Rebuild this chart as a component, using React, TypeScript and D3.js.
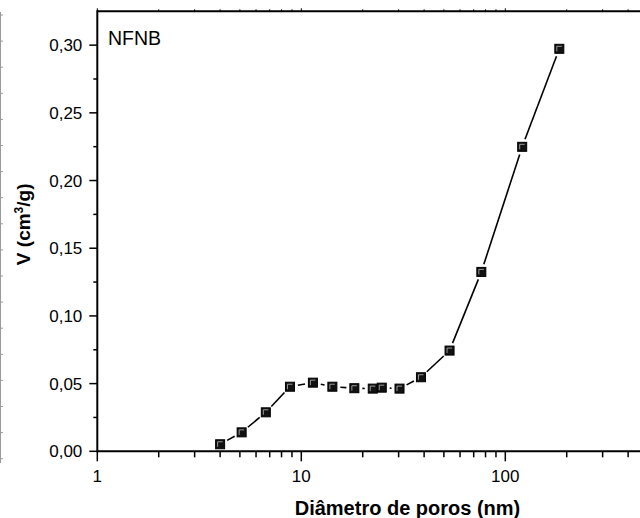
import React from "react";
import * as d3 from "d3";

// Pore-size distribution, sample NFNB
const diameters = [4.0, 5.1, 6.7, 8.8, 11.4, 14.2, 18.2, 22.4, 24.8, 30.3, 38.6, 53.3, 76.3, 121, 184];
const volumes = [0.0052, 0.014, 0.0288, 0.0477, 0.0507, 0.0477, 0.0466, 0.0463, 0.047, 0.0463, 0.0547, 0.0744, 0.1325, 0.2249, 0.2973];
const yMajorTicks = [0, 0.05, 0.1, 0.15, 0.2, 0.25, 0.3];
const yMinorTicks = [0.025, 0.075, 0.125, 0.175, 0.225, 0.275];
const xMajorTicks = [1, 10, 100];
const sampleName = "NFNB";

const W = 640;
const H = 518;
const LEFT = 97.3;
const DECADE = 204;
const BOTTOM = 451.3;
const TOP = 11.3;

export default function App() {
  const x = d3.scaleLog().domain([1, 1000]).range([LEFT, LEFT + 3 * DECADE]);
  const y = d3.scaleLinear().domain([0, 0.325]).range([BOTTOM, TOP]);

  const xMinor: number[] = [];
  [1, 10, 100].forEach((d) => {
    for (let k = 2; k <= 9; k++) {
      const v = d * k;
      if (x(v) < W + 5) xMinor.push(v);
    }
  });

  const pts = diameters.map((d, i) => [x(d), y(volumes[i])] as [number, number]);
  const gap = 8;
  const segs: [number, number, number, number][] = [];
  for (let i = 0; i < pts.length - 1; i++) {
    const [x0, y0] = pts[i];
    const [x1, y1] = pts[i + 1];
    const len = Math.hypot(x1 - x0, y1 - y0);
    if (len <= 2 * gap + 0.5) continue;
    const ux = (x1 - x0) / len;
    const uy = (y1 - y0) / len;
    segs.push([x0 + ux * gap, y0 + uy * gap, x1 - ux * gap, y1 - uy * gap]);
  }

  const fmt = (v: number) => v.toFixed(2).replace(".", ",");
  const edgeTicks = d3.range(0, 18).map((k) => 15 + 26.1 * k);
  const font = "Arial, 'Liberation Sans', Helvetica, sans-serif";

  return (
    <div style={{ position: "fixed", left: 0, top: 0 }}>
      <svg width={W} height={H} style={{ display: "block", background: "#fff" }} fontFamily={font}>
        {/* neighbouring panel edge */}
        <line x1={0.5} x2={0.5} y1={12} y2={463} stroke="#9a9a9a" strokeWidth={1} />
        {edgeTicks.map((t, i) => (
          <line key={i} x1={0} x2={3} y1={t} y2={t} stroke="#9a9a9a" strokeWidth={1} />
        ))}

        {/* frame */}
        <line x1={LEFT} x2={W} y1={BOTTOM} y2={BOTTOM} stroke="#000" strokeWidth={2} />
        <line x1={LEFT} x2={W} y1={TOP} y2={TOP} stroke="#000" strokeWidth={2} />
        <line x1={LEFT} x2={LEFT} y1={TOP - 1} y2={BOTTOM + 1} stroke="#000" strokeWidth={2} />

        {/* y ticks */}
        {yMajorTicks.map((t) => (
          <g key={"ym" + t}>
            <line x1={LEFT - 8} x2={LEFT} y1={y(t)} y2={y(t)} stroke="#000" strokeWidth={1.5} />
            <text x={LEFT - 15} y={y(t)} dy="0.36em" textAnchor="end" fontSize={17} fill="#000">
              {fmt(t)}
            </text>
          </g>
        ))}
        {yMinorTicks.map((t) => (
          <line key={"yn" + t} x1={LEFT - 4} x2={LEFT} y1={y(t)} y2={y(t)} stroke="#000" strokeWidth={1.5} />
        ))}

        {/* x ticks */}
        {xMajorTicks.map((t) => (
          <g key={"xm" + t}>
            <line x1={x(t)} x2={x(t)} y1={BOTTOM} y2={BOTTOM + 10} stroke="#000" strokeWidth={1.5} />
            <line x1={x(t)} x2={x(t)} y1={TOP} y2={TOP - 3} stroke="#000" strokeWidth={1} />
            <text x={x(t)} y={482} textAnchor="middle" fontSize={17} fill="#000">
              {t}
            </text>
          </g>
        ))}
        {xMinor.map((t) => (
          <g key={"xn" + t}>
            <line x1={x(t)} x2={x(t)} y1={BOTTOM} y2={BOTTOM + 6} stroke="#000" strokeWidth={1.5} />
            <line x1={x(t)} x2={x(t)} y1={TOP} y2={TOP - 2} stroke="#000" strokeWidth={1} />
          </g>
        ))}

        {/* connecting line */}
        {segs.map((s, i) => (
          <line key={"s" + i} x1={s[0]} y1={s[1]} x2={s[2]} y2={s[3]} stroke="#000" strokeWidth={1.6} />
        ))}

        {/* markers */}
        {pts.map(([px, py], i) => (
          <g key={"p" + i}>
            <rect x={px - 4.5} y={py - 4.5} width={9} height={9} fill="#111" stroke="#000" strokeWidth={1} />
            <path
              d={`M${px - 2.5},${py + 2.5}V${py - 2.5}H${px + 2.5}`}
              fill="none"
              stroke="#bbb"
              strokeWidth={0.8}
            />
          </g>
        ))}

        <text x={108} y={45} fontSize={19.5} fill="#000">
          {sampleName}
        </text>

        <text x={407.5} y={515} textAnchor="middle" fontSize={20} fontWeight="bold" fill="#000">
          Diâmetro de poros (nm)
        </text>

        <text
          transform={`translate(30,${(TOP + BOTTOM) / 2 - 7}) rotate(-90)`}
          textAnchor="middle"
          fontSize={19}
          fontWeight="bold"
          fill="#000"
        >
          V (cm
          <tspan dy={-7} fontSize={12}>
            3
          </tspan>
          <tspan dy={7}>/g)</tspan>
        </text>
      </svg>
    </div>
  );
}
